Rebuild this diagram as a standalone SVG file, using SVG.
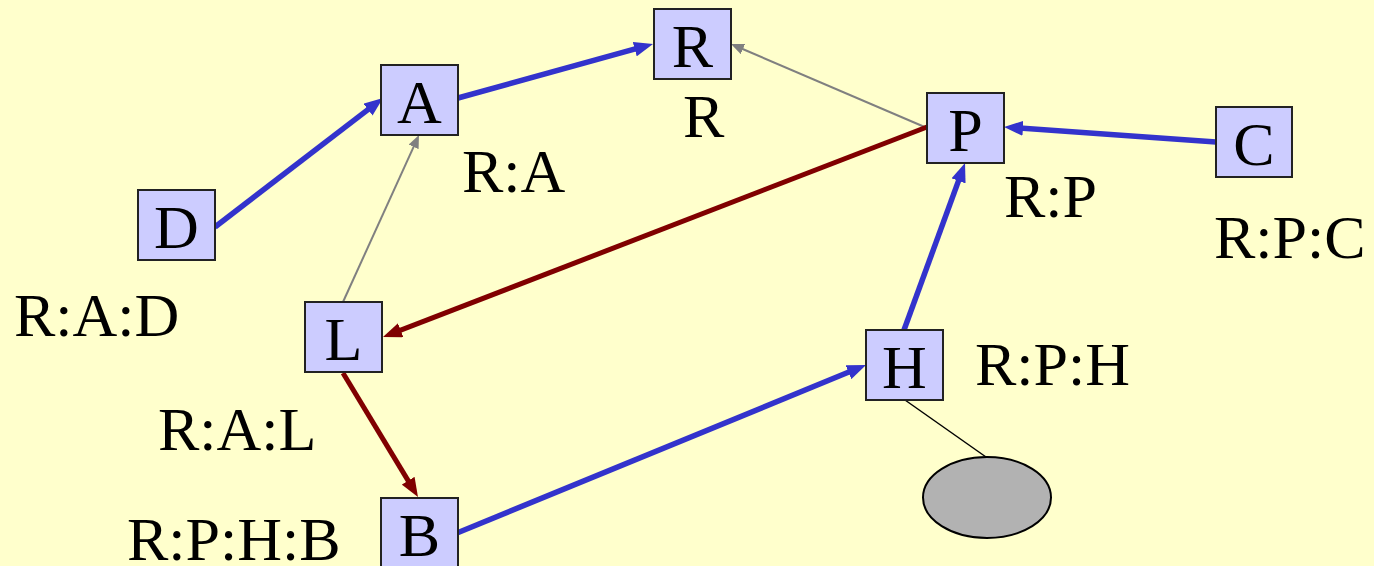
<svg xmlns="http://www.w3.org/2000/svg" width="1374" height="566" viewBox="0 0 1374 566">
<style>
.bg{fill:#ffffcc}
.box{fill:#ccccff;stroke:#222;stroke-width:2}
.t{font-size:62px;fill:#000}
.c{text-anchor:middle}
.blue{stroke:#3333cc;stroke-width:5.5;fill:none}
.red{stroke:#800000;stroke-width:5;fill:none}
.gray{stroke:#808080;stroke-width:2;fill:none}
</style>
<defs>
<marker id="ab" markerUnits="userSpaceOnUse" markerWidth="19" markerHeight="15" refX="9" refY="7.5" orient="auto"><path d="M0,0 L19,7.5 L0,15 z" fill="#3333cc"/></marker>
<marker id="ar" markerUnits="userSpaceOnUse" markerWidth="19" markerHeight="15" refX="9" refY="7.5" orient="auto"><path d="M0,0 L19,7.5 L0,15 z" fill="#800000"/></marker>
<marker id="ag" markerUnits="userSpaceOnUse" markerWidth="13" markerHeight="11" refX="8" refY="5.5" orient="auto"><path d="M0,0 L13,5.5 L0,11 z" fill="#808080"/></marker>
</defs>
<rect class="bg" x="0" y="0" width="1374" height="566"/>
<g id="connectors">
<line class="blue" x1="215" y1="227" x2="375.1" y2="104.1" marker-end="url(#ab)"/>
<line class="blue" x1="458" y1="98" x2="643.4" y2="46.7" marker-end="url(#ab)"/>
<line class="gray" x1="927" y1="128" x2="735.6" y2="46" marker-end="url(#ag)"/>
<line class="gray" x1="343" y1="302" x2="416.9" y2="139.6" marker-end="url(#ag)"/>
<line class="red" x1="927" y1="127" x2="392.3" y2="333.4" marker-end="url(#ar)"/>
<line class="red" x1="343" y1="373" x2="412.8" y2="488.4" marker-end="url(#ar)"/>
<line class="blue" x1="457" y1="533" x2="856.8" y2="368.8" marker-end="url(#ab)"/>
<line class="blue" x1="904" y1="330" x2="961.6" y2="172.4" marker-end="url(#ab)"/>
<line class="blue" x1="1216" y1="142" x2="1014" y2="127.7" marker-end="url(#ab)"/>
<line x1="905" y1="400" x2="986" y2="457" stroke="#000" stroke-width="1.5"/>
</g>
<g font-family="'Liberation Serif', 'Times New Roman', serif">
<g id="node-R"><rect class="box" x="654" y="9" width="77" height="70"/><text class="t c" x="692.5" y="67">R</text></g>
<g id="node-A"><rect class="box" x="381" y="65" width="77" height="70"/><text class="t c" x="419.5" y="123">A</text></g>
<g id="node-P"><rect class="box" x="927" y="93" width="77" height="70"/><text class="t c" x="965.5" y="151">P</text></g>
<g id="node-C"><rect class="box" x="1216" y="107" width="76" height="70"/><text class="t c" x="1254" y="165">C</text></g>
<g id="node-D"><rect class="box" x="138" y="190" width="77" height="70"/><text class="t c" x="176.5" y="248">D</text></g>
<g id="node-L"><rect class="box" x="305" y="302" width="77" height="70"/><text class="t c" x="343.5" y="360">L</text></g>
<g id="node-H"><rect class="box" x="866" y="330" width="77" height="70"/><text class="t c" x="904.5" y="388">H</text></g>
<g id="node-B"><rect class="box" x="381" y="498" width="77" height="70"/><text class="t c" x="419.5" y="556">B</text></g>
<g id="node-ellipse"><ellipse cx="987" cy="497.5" rx="64" ry="40.5" fill="#b2b2b2" stroke="#000" stroke-width="2"/></g>
<g id="labels">
<text class="t" x="683" y="137">R</text>
<text class="t" x="462" y="192">R:A</text>
<text class="t" x="1004" y="217">R:P</text>
<text class="t" x="1214" y="258">R:P:C</text>
<text class="t" x="14" y="336">R:A:D</text>
<text class="t" x="158" y="450">R:A:L</text>
<text class="t" x="975" y="385">R:P:H</text>
<text class="t" x="127" y="560">R:P:H:B</text>
</g>
</g>
</svg>
